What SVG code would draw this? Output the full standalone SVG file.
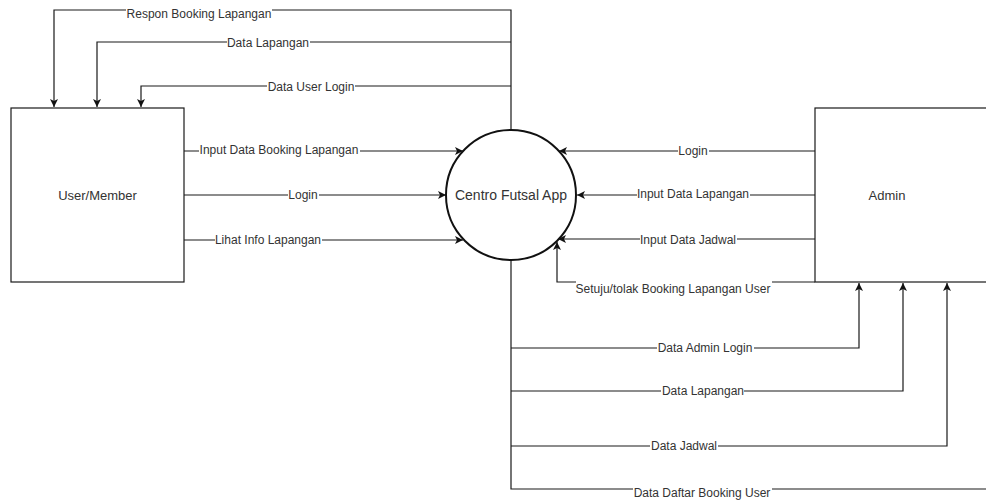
<svg xmlns="http://www.w3.org/2000/svg" width="986" height="502" viewBox="0 0 986 502">
<style>
.ln{fill:none;stroke:#1a1a1a;stroke-width:1.2}
.box{fill:#fff;stroke:#1a1a1a;stroke-width:1.2}
.circ{fill:#fff;stroke:#111;stroke-width:2}
.lbl{font-family:"Liberation Sans",Arial,sans-serif;font-size:12px;fill:#333;text-anchor:middle}
.nl{font-family:"Liberation Sans",Arial,sans-serif;font-size:13px;fill:#333;text-anchor:middle}
.bg{fill:#fff}
</style>
<defs>
<marker id="ah" viewBox="0 0 10 10" refX="10" refY="5" markerWidth="8" markerHeight="8" markerUnits="userSpaceOnUse" orient="auto">
<path d="M0,0 L10,5 L0,10 L2.5,5 Z" fill="#111"/>
</marker>
</defs>
<g id="connectors">
<path class="ln" d="M511,130 V10 H54 V107" marker-end="url(#ah)"/>
<path class="ln" d="M511,42 H97 V107" marker-end="url(#ah)"/>
<path class="ln" d="M511,86 H141 V107" marker-end="url(#ah)"/>
<path class="ln" d="M184,151 H463" marker-end="url(#ah)"/>
<path class="ln" d="M184,195 H446" marker-end="url(#ah)"/>
<path class="ln" d="M184,240 H463" marker-end="url(#ah)"/>
<path class="ln" d="M815,151 H559" marker-end="url(#ah)"/>
<path class="ln" d="M815,195 H577" marker-end="url(#ah)"/>
<path class="ln" d="M815,239 H558" marker-end="url(#ah)"/>
<path class="ln" d="M815,282 H557 V242" marker-end="url(#ah)"/>
<path class="ln" d="M511,260 V489 H990 V283" marker-end="url(#ah)"/>
<path class="ln" d="M511,348 H859 V283" marker-end="url(#ah)"/>
<path class="ln" d="M511,391 H903 V283" marker-end="url(#ah)"/>
<path class="ln" d="M511,446 H947 V283" marker-end="url(#ah)"/>
</g>
<g id="labels">
<rect class="bg" x="126" y="6" width="146" height="15"/><text class="lbl" x="199" y="18">Respon Booking Lapangan</text>
<rect class="bg" x="227" y="36" width="83" height="14"/><text class="lbl" x="268" y="47">Data Lapangan</text>
<rect class="bg" x="267" y="80" width="88" height="14"/><text class="lbl" x="311" y="91">Data User Login</text>
<rect class="bg" x="199" y="144" width="161" height="14"/><text class="lbl" x="279" y="154">Input Data Booking Lapangan</text>
<rect class="bg" x="288" y="188" width="31" height="14"/><text class="lbl" x="303" y="199">Login</text>
<rect class="bg" x="215" y="233" width="107" height="14"/><text class="lbl" x="268" y="244">Lihat Info Lapangan</text>
<rect class="bg" x="678" y="144" width="31" height="14"/><text class="lbl" x="693" y="155">Login</text>
<rect class="bg" x="637" y="188" width="113" height="14"/><text class="lbl" x="693" y="198">Input Data Lapangan</text>
<rect class="bg" x="640" y="232" width="97" height="14"/><text class="lbl" x="688" y="244">Input Data Jadwal</text>
<rect class="bg" x="576" y="281" width="196" height="15"/><text class="lbl" x="673" y="293">Setuju/tolak Booking Lapangan User</text>
<rect class="bg" x="657" y="341" width="97" height="14"/><text class="lbl" x="705" y="352">Data Admin Login</text>
<rect class="bg" x="661" y="384" width="83" height="14"/><text class="lbl" x="703" y="395">Data Lapangan</text>
<rect class="bg" x="650" y="439" width="68" height="14"/><text class="lbl" x="684" y="450">Data Jadwal</text>
<rect class="bg" x="633" y="487" width="139" height="14"/><text class="lbl" x="702" y="497">Data Daftar Booking User</text>
</g>
<g id="user">
<rect class="box" x="11" y="108" width="173" height="174"/>
<text class="nl" x="97.5" y="200">User/Member</text>
</g>
<g id="app">
<circle class="circ" cx="511" cy="195" r="65"/>
<text class="nl" x="511" y="200" style="font-size:14px">Centro Futsal App</text>
</g>
<g id="admin">
<rect class="box" x="815" y="108" width="175" height="174"/>
<text class="nl" x="887" y="200">Admin</text>
</g>
</svg>
